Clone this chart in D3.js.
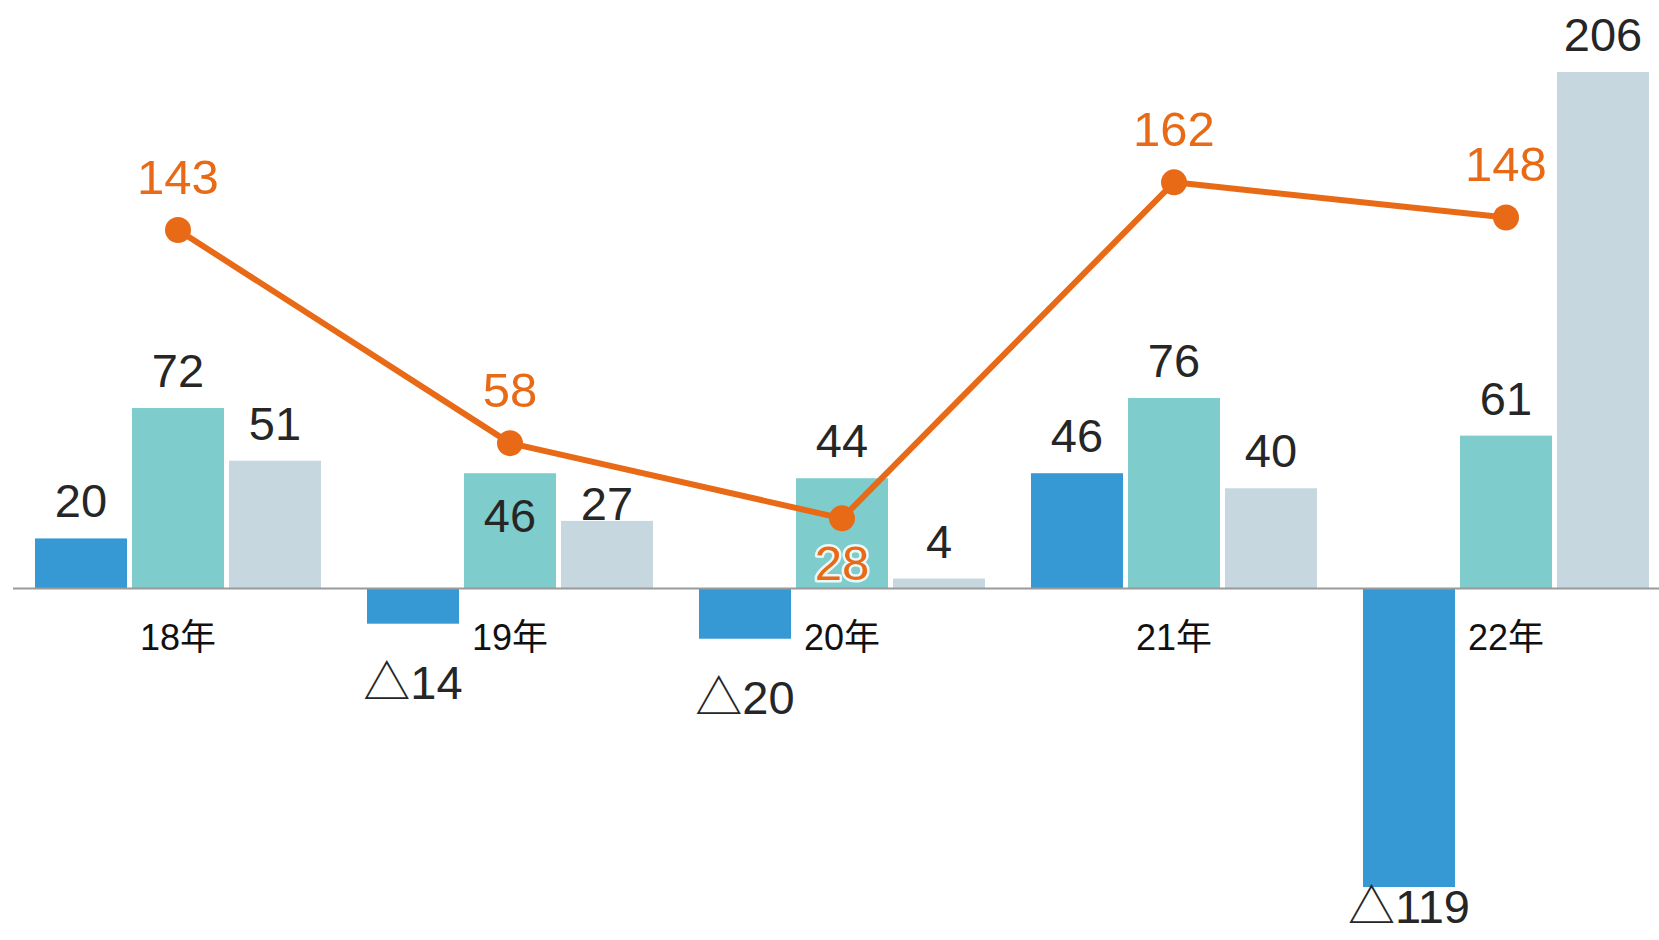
<!DOCTYPE html>
<html>
<head>
<meta charset="utf-8">
<script src="https://cdn.jsdelivr.net/npm/d3@7"></script>
<style>
  html, body { margin: 0; padding: 0; background: #fff; }
  svg { display: block; }
  text { font-family: "Liberation Sans", Arial, "Noto Sans CJK JP", sans-serif; }
</style>
</head>
<body>
<svg id="chart" width="1659" height="940"></svg>
<script>
// ---- data ----
const categories = ["18年", "19年", "20年", "21年", "22年"];
const seriesBlue = [20, -14, -20, 46, -119];
const seriesTeal = [72, 46, 44, 76, 61];
const seriesGray = [51, 27, 4, 40, 206];
const lineValues = [143, 58, 28, 162, 148];

// ---- style / layout ----
const W = 1659, H = 940;
const colors = ["#3699D4", "#7FCCCC", "#C6D7DF"];
const orange = "#E86A17";
const textColor = "#262626";
// label nudges (layout only): key = "groupIndex-seriesIndex"
const labelNudge = { "1-1": 80, "1-2": 20, "4-0": -39 };
const lineLabelBelow = [false, false, true, false, false];

const svg = d3.select("#chart");
const allSeries = [seriesBlue, seriesTeal, seriesGray];

const x0 = d3.scaleBand().domain(categories).range([35, 1649])
  .paddingInner(0.1386).paddingOuter(0);
const x1 = d3.scaleBand().domain([0, 1, 2]).range([0, x0.bandwidth()])
  .paddingInner(0.0515);
const y = d3.scaleLinear()
  .domain([d3.min(seriesBlue), d3.max(seriesGray)])
  .range([887, 72]);

const barData = [];
categories.forEach((c, gi) => {
  allSeries.forEach((s, si) => barData.push({ c, gi, si, v: s[gi] }));
});

// bars
svg.append("g").selectAll("rect").data(barData).join("rect")
  .attr("x", d => x0(d.c) + x1(d.si))
  .attr("width", x1.bandwidth())
  .attr("y", d => y(Math.max(0, d.v)))
  .attr("height", d => Math.abs(y(d.v) - y(0)))
  .attr("fill", d => colors[d.si]);

// baseline
svg.append("line")
  .attr("x1", 13).attr("x2", W)
  .attr("y1", y(0)).attr("y2", y(0))
  .attr("stroke", "#9A9A9A").attr("stroke-width", 2);

// category axis labels
const axis = svg.append("g")
  .attr("transform", `translate(0,${y(0)})`)
  .call(d3.axisBottom(x0).tickSize(0));
axis.select(".domain").remove();
axis.selectAll("text")
  .attr("y", 650 - y(0)).attr("dy", 0)
  .attr("font-size", 36)
  .attr("font-family", "\"Liberation Sans\", Arial, \"Noto Sans CJK JP\", sans-serif")
  .attr("fill", "#111");

// value labels on bars
svg.append("g").selectAll("text").data(barData).join("text")
  .attr("x", d => x0(d.c) + x1(d.si) + x1.bandwidth() / 2)
  .attr("y", d => (d.v >= 0 ? y(d.v) - 21 : y(d.v) + 75) + (labelNudge[d.gi + "-" + d.si] || 0))
  .attr("text-anchor", "middle")
  .attr("font-size", 47)
  .attr("fill", textColor)
  .text(d => d.v >= 0 ? d.v : "△" + Math.abs(d.v));

// line
const cx = (c) => x0(c) + x0.bandwidth() / 2;
const lineGen = d3.line().x((d, i) => cx(categories[i])).y(d => y(d));
svg.append("path").datum(lineValues)
  .attr("d", lineGen)
  .attr("fill", "none")
  .attr("stroke", orange)
  .attr("stroke-width", 6)
  .attr("stroke-linejoin", "round");
svg.append("g").selectAll("circle").data(lineValues).join("circle")
  .attr("cx", (d, i) => cx(categories[i]))
  .attr("cy", d => y(d))
  .attr("r", 13)
  .attr("fill", orange);

// line labels
svg.append("g").selectAll("text").data(lineValues).join("text")
  .attr("x", (d, i) => cx(categories[i]))
  .attr("y", (d, i) => lineLabelBelow[i] ? y(d) + 62 : y(d) - 36)
  .attr("text-anchor", "middle")
  .attr("font-size", 49)
  .attr("fill", orange)
  .attr("stroke", (d, i) => lineLabelBelow[i] ? "rgba(255,255,255,0.85)" : "none")
  .attr("stroke-width", 5)
  .attr("stroke-linejoin", "round")
  .attr("paint-order", "stroke")
  .text(d => d);
</script>
</body>
</html>
